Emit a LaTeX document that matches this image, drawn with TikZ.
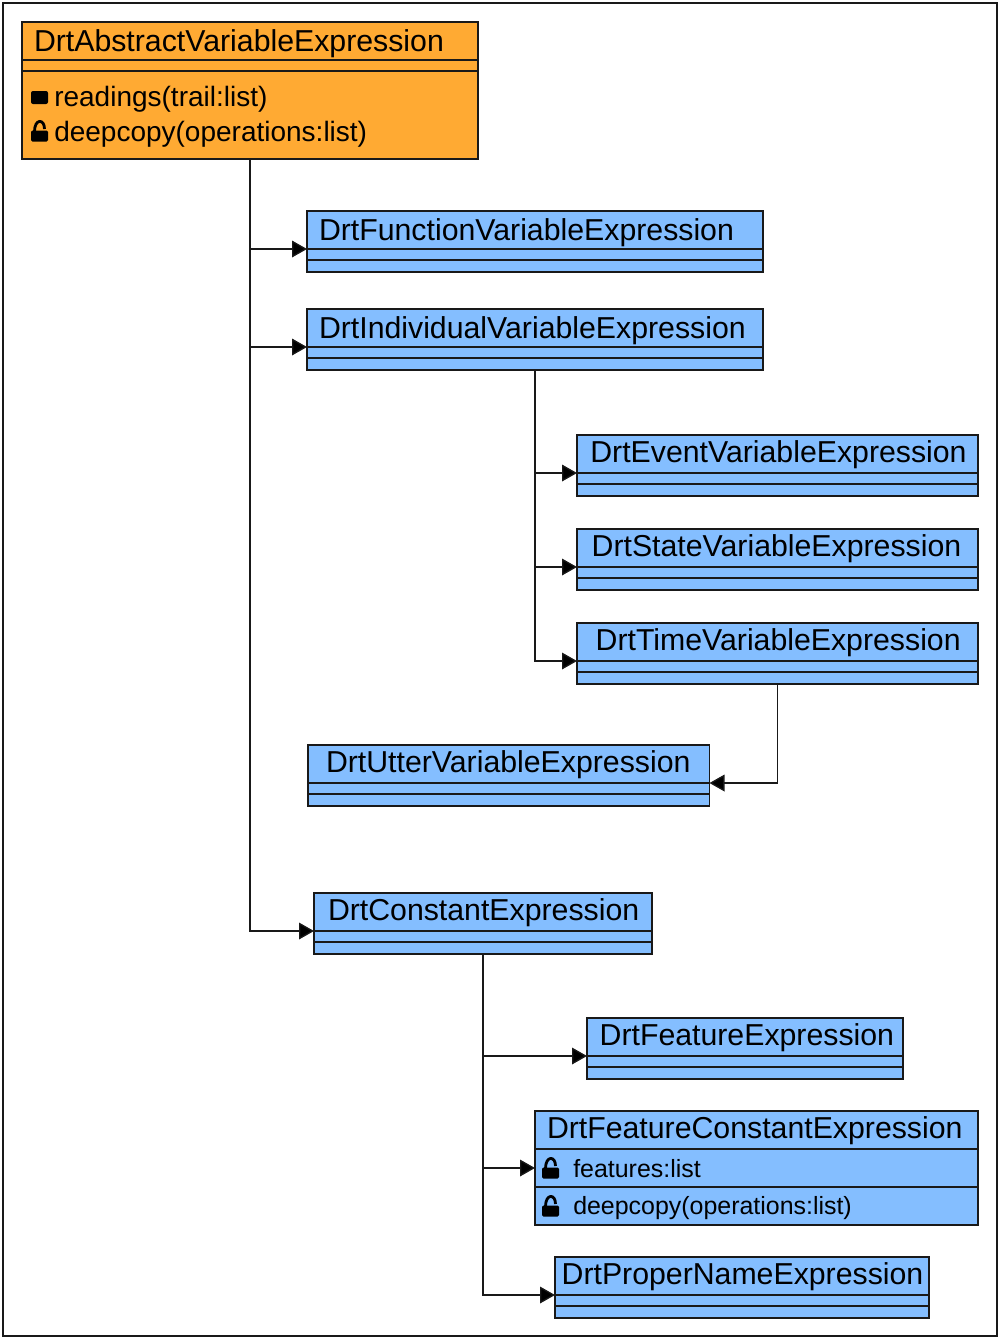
\documentclass[tikz,border=0pt]{standalone}
\usepackage{fontspec}
\setmainfont{Liberation Sans}
\usetikzlibrary{positioning,arrows.meta}
\definecolor{classorange}{RGB}{255,170,51}
\definecolor{classblue}{RGB}{132,190,255}
\definecolor{umlline}{RGB}{25,25,25}
\tikzset{
  boxline/.style={draw=umlline, line width=1.05pt, inner sep=0pt, outer sep=0pt},
  head/.style={boxline, anchor=north west, text width=#1*0.75pt, align=left, text height=22.3pt, text depth=6.2pt, font=\fontsize{22.7pt}{25pt}\selectfont},
  headup/.style={head=#1, text height=20.7pt, text depth=7.8pt},
  row/.style={boxline, minimum width=#1*0.75pt},
  optext/.style={anchor=base west, inner sep=0pt, font=\fontsize{21pt}{24pt}\selectfont},
  smalltext/.style={anchor=base west, inner sep=0pt, font=\fontsize{18.7pt}{22pt}\selectfont},
  conn/.style={draw=umlline, line width=1pt, -{Triangle[length=11.25pt,width=12.5pt,fill=black]}},
  lockicon/.pic={
    \fill[black, rounded corners=1pt] (0,0) rectangle (17,11);
    \draw[black, line width=2.1pt] (3.5,1) .. controls (3.5,-12) and (13.5,-12) .. (13.5,-1.5);
  },
  dashicon/.pic={
    \fill[black, rounded corners=1.5pt] (0,0) rectangle (17,13);
  }
}
\begin{document}
\begin{tikzpicture}[x=0.75pt,y=-0.75pt]
\useasboundingbox (0,0) rectangle (1000,1340);
\draw[umlline, line width=1.1pt] (3,3) rectangle (997,1336);

% base class
\node[head=456, fill=classorange] (abs) at (22,22) {\hspace*{9pt}DrtAbstractVariableExpression};
\node[row=456, fill=classorange, minimum height=8.25pt, below=0pt of abs] (absattr) {};
\node[row=456, fill=classorange, minimum height=66pt, below=0pt of absattr] (absop) {};
\pic at (31,91) {dashicon};
\pic at (31,130.5) {lockicon};
\node[optext] (absop1) at (54,106) {readings(trail:list)};
\node[optext] (absop2) at (54,141) {deepcopy(operations:list)};

% variable expressions
\node[head=456, fill=classblue] (fn) at (307,211) {\hspace*{9pt}DrtFunctionVariableExpression};
\node[row=456, fill=classblue, minimum height=8.25pt, below=0pt of fn] (fnattr) {};
\node[row=456, fill=classblue, minimum height=9pt, below=0pt of fnattr] (fnop) {};

\node[head=456, fill=classblue] (ind) at (307,309) {\hspace*{9pt}DrtIndividualVariableExpression};
\node[row=456, fill=classblue, minimum height=8.25pt, below=0pt of ind] (indattr) {};
\node[row=456, fill=classblue, minimum height=9pt, below=0pt of indattr] (indop) {};

\node[headup=401, fill=classblue] (ev) at (577,435) {\hspace*{10pt}DrtEventVariableExpression};
\node[row=401, fill=classblue, minimum height=8.25pt, below=0pt of ev] (evattr) {};
\node[row=401, fill=classblue, minimum height=9pt, below=0pt of evattr] (evop) {};

\node[headup=401, fill=classblue] (st) at (577,529) {\hspace*{11pt}DrtStateVariableExpression};
\node[row=401, fill=classblue, minimum height=8.25pt, below=0pt of st] (stattr) {};
\node[row=401, fill=classblue, minimum height=9pt, below=0pt of stattr] (stop) {};

\node[headup=401, fill=classblue] (tm) at (577,623) {\hspace*{14pt}DrtTimeVariableExpression};
\node[row=401, fill=classblue, minimum height=8.25pt, below=0pt of tm] (tmattr) {};
\node[row=401, fill=classblue, minimum height=9pt, below=0pt of tmattr] (tmop) {};

\node[headup=401.5, fill=classblue] (ut) at (308,745) {\hspace*{13.5pt}DrtUtterVariableExpression};
\node[row=401.5, fill=classblue, minimum height=8.25pt, below=0pt of ut] (utattr) {};
\node[row=401.5, fill=classblue, minimum height=9pt, below=0pt of utattr] (utop) {};

% constant expressions
\node[headup=338, fill=classblue] (con) at (314,893) {\hspace*{10.5pt}DrtConstantExpression};
\node[row=338, fill=classblue, minimum height=8.25pt, below=0pt of con] (conattr) {};
\node[row=338, fill=classblue, minimum height=9pt, below=0pt of conattr] (conop) {};

\node[headup=316, fill=classblue] (fe) at (587,1018) {\hspace*{9.5pt}DrtFeatureExpression};
\node[row=316, fill=classblue, minimum height=8.25pt, below=0pt of fe] (feattr) {};
\node[row=316, fill=classblue, minimum height=9pt, below=0pt of feattr] (feop) {};

\node[headup=443, fill=classblue] (fc) at (535,1111) {\hspace*{9pt}DrtFeatureConstantExpression};
\node[row=443, fill=classblue, minimum height=28.5pt, below=0pt of fc] (fcattr) {};
\node[row=443, fill=classblue, minimum height=28.5pt, below=0pt of fcattr] (fcop) {};
\pic at (542,1167.5) {lockicon};
\pic at (542,1205.5) {lockicon};
\node[smalltext] (fcattr1) at (573,1177) {features:list};
\node[smalltext] (fcop1) at (573,1214) {deepcopy(operations:list)};

\node[headup=374, fill=classblue] (pn) at (555,1257) {\hspace*{5pt}DrtProperNameExpression};
\node[row=374, fill=classblue, minimum height=8.25pt, below=0pt of pn] (pnattr) {};
\node[row=374, fill=classblue, minimum height=9pt, below=0pt of pnattr] (pnop) {};

% inheritance
\draw[conn] (absop.south) |- (fn.south west);
\draw[conn] (absop.south) |- (ind.south west);
\draw[conn] (absop.south) |- (con.south west);
\draw[conn] (indop.south) |- (ev.south west);
\draw[conn] (indop.south) |- (st.south west);
\draw[conn] (indop.south) |- (tm.south west);
\draw[conn] (tmop.south) |- (ut.south east);
\draw[conn] (conop.south) |- (fe.south west);
\draw[conn] (conop.south) |- (fcattr.west);
\draw[conn] (conop.south) |- (pn.south west);
\end{tikzpicture}
\end{document}
